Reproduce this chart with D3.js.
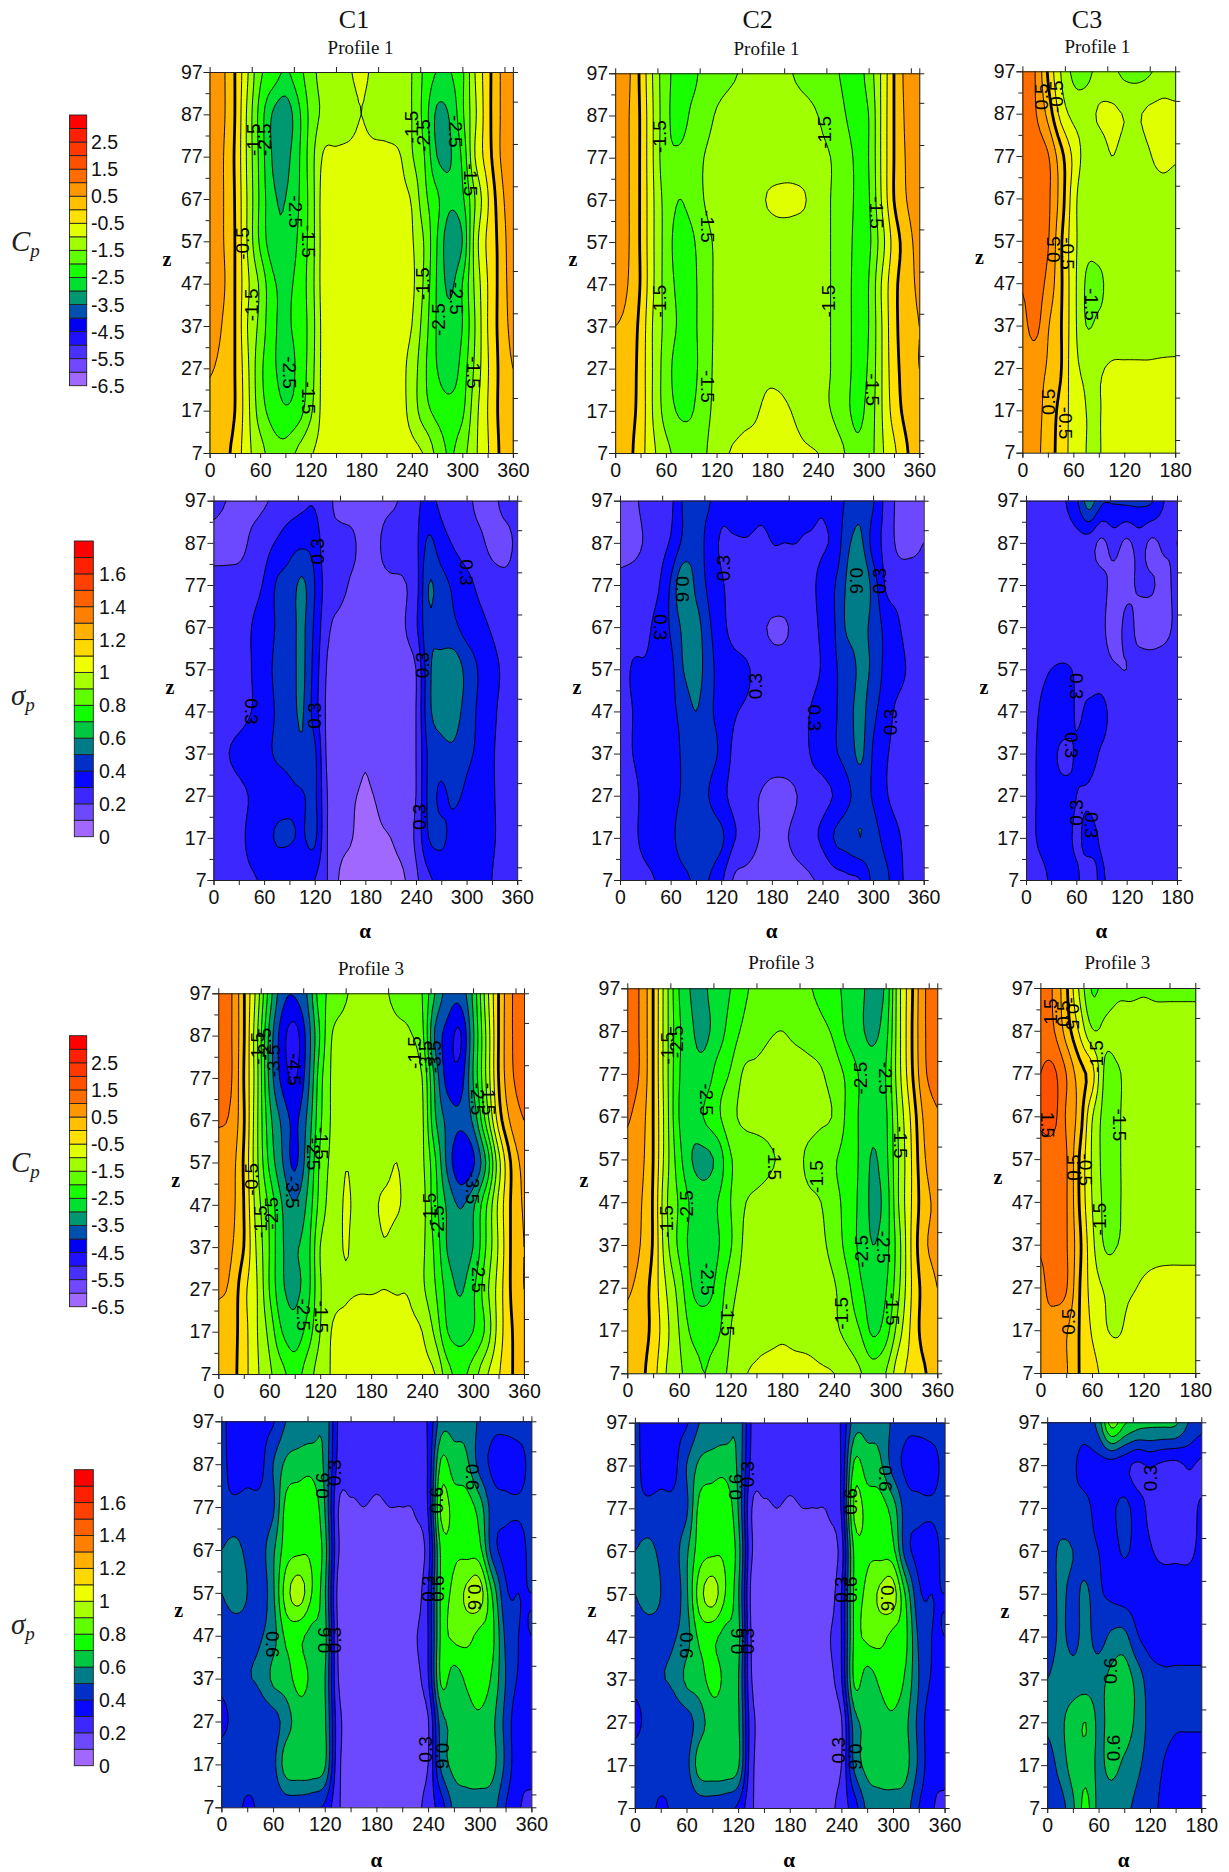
<!DOCTYPE html>
<html><head><meta charset="utf-8">
<script src="https://cdn.jsdelivr.net/npm/d3@7"></script>
<style>
html,body{margin:0;padding:0;background:#fff}
svg{display:block}
.num{font-family:"Liberation Sans",Arial,sans-serif}
.ser{font-family:"Liberation Serif","Times New Roman",serif}
</style></head><body>
<svg id="c" width="1229" height="1872"></svg>
<script>
// ---------- values ----------
const zRows=[97,87,77,67,57,47,37,27,17,7];
const alphaFull=d3.range(0,361,15);
const alphaHalf=d3.range(0,181,15);
const xTicksLabelled=[0,60,120,180,240,300,360];
const cpLevels=d3.range(-6.5,3.01,0.5);
const sigmaLevels=d3.range(0,1.71,0.1);
const cpColors=["#a068ff","#7048ff","#4830ff","#2010ff","#0000f0","#0050b0","#009870","#00e030","#18ff00","#60ff00","#a0ff00","#e0ff00","#ffe000","#ffc000","#ff9800","#ff6c00","#ff5000","#ff3800","#ff2000","#ff0000"];
const sigmaColors=["#a068ff","#6c48ff","#3c28ff","#0808ff","#0030c8","#007c88","#00c840","#10ff00","#60ff00","#a8ff00","#f0ff00","#ffd800","#ffb000","#ff8000","#ff6000","#ff4000","#ff2000","#ff0000"];
const cpLegendLabels=[2.5,1.5,0.5,-0.5,-1.5,-2.5,-3.5,-4.5,-5.5,-6.5];
const sigmaLegendLabels=[1.6,1.4,1.2,1,0.8,0.6,0.4,0.2,0];

const cpC1P1=[
[.85,.6,0,-.95,-1.9,-2.2,-2.55,-2.2,-1.7,-1.3,-1.25,-1.05,-.9,-1.1,-1.3,-1.4,-1.5,-2.1,-2.52,-2.52,-2.1,-1,-.2,.5,.85],
[.85,.6,0,-1.1,-2.2,-3.05,-3.3,-2.65,-1.85,-1.4,-1.35,-1.2,-1,-1.2,-1.3,-1.4,-1.5,-2.2,-3.1,-2.95,-2.1,-1.1,-.2,.5,.85],
[.85,.55,-.05,-1.1,-2.15,-3.05,-3.15,-2.6,-1.75,-.95,-.9,-.88,-.85,-.85,-.85,-.95,-1.45,-2,-3,-3.05,-2.4,-1,-.25,.5,.85],
[.85,.55,-.02,-1.05,-2.1,-2.9,-3,-2.55,-1.8,-.8,-.8,-.78,-.78,-.78,-.8,-.85,-1.05,-1.85,-2.4,-2.9,-2.6,-1.5,-.55,.3,.85],
[.85,.55,0,-1.05,-2.1,-2.8,-2.9,-2.45,-1.8,-.8,-.75,-.75,-.75,-.75,-.75,-.75,-.95,-1.55,-2.5,-3.3,-3,-1.3,-.4,.15,.85],
[.85,.6,0,-.9,-1.6,-2.4,-2.6,-2.35,-1.75,-.8,-.8,-.8,-.8,-.8,-.8,-.8,-.9,-1.6,-2.55,-3.1,-2.5,-1.4,-.5,.15,.75],
[.8,.48,0,-1,-1.65,-2.4,-2.55,-2.35,-1.8,-.85,-.85,-.85,-.85,-.85,-.85,-.85,-1,-1.75,-2.55,-2.85,-2.5,-1.5,-.5,.15,.65],
[.55,.35,0,-.9,-1.85,-2.4,-2.65,-2.4,-1.75,-.85,-.85,-.85,-.85,-.85,-.85,-.85,-1.2,-1.9,-2.5,-2.8,-2.3,-1.4,-.55,.1,.5],
[.35,.25,0,-.85,-1.75,-2.2,-2.45,-2.25,-1.6,-.85,-.82,-.82,-.82,-.82,-.82,-.8,-1.2,-1.8,-2.15,-2.3,-2.1,-1.2,-.5,.1,.35],
[.3,.15,-.15,-.85,-1.3,-1.75,-1.8,-1.4,-1.05,-.85,-.82,-.82,-.82,-.82,-.82,-.82,-.85,-1.05,-1.65,-2.05,-1.7,-1.1,-.55,.05,.3]];

const cpC2P1=[
[.85,.6,-.1,-1.05,-1.85,-2.1,-2.1,-1.9,-1.75,-1.6,-1.45,-1.3,-1.25,-1.35,-1.5,-1.65,-1.75,-1.9,-2.05,-2.2,-1.8,-.95,0,.65,.85],
[.85,.55,-.05,-1,-1.85,-2.15,-1.95,-1.75,-1.45,-1.3,-1.28,-1.28,-1.25,-1.28,-1.3,-1.35,-1.5,-1.7,-1.95,-2.15,-2,-.95,0,.6,.85],
[.85,.55,-.05,-1,-1.85,-1.95,-1.8,-1.5,-1.3,-1.25,-1.25,-1.25,-1.22,-1.25,-1.25,-1.3,-1.4,-1.5,-1.75,-2.05,-2,-.95,0,.55,.85],
[.85,.55,-.05,-.95,-1.7,-2,-1.85,-1.5,-1.3,-1.25,-1.2,-1.15,-.98,-.9,-.9,-.98,-1.3,-1.5,-1.7,-2.05,-2.05,-1,0,.5,.85],
[.85,.55,-.05,-.95,-1.7,-2.2,-2.1,-1.7,-1.42,-1.3,-1.28,-1.25,-1.22,-1.22,-1.25,-1.3,-1.35,-1.5,-1.7,-2.1,-2.1,-1.25,-.3,.25,.7],
[.8,.5,-.03,-.95,-1.7,-2.1,-2.15,-1.75,-1.42,-1.3,-1.28,-1.28,-1.28,-1.28,-1.28,-1.3,-1.35,-1.5,-1.75,-2.1,-2,-1,-.15,.25,.6],
[.5,.35,-.15,-1.05,-1.65,-2.05,-2.15,-1.75,-1.42,-1.3,-1.28,-1.28,-1.28,-1.28,-1.28,-1.3,-1.35,-1.5,-1.75,-2.1,-2,-1.05,-.15,.22,.5],
[.45,.3,-.2,-1.05,-1.75,-2.2,-2.2,-1.75,-1.4,-1.3,-1.28,-1.22,-1.1,-1.15,-1.28,-1.3,-1.35,-1.5,-1.75,-2.1,-1.95,-1.05,-.2,.2,.5],
[.3,.2,-.2,-1.05,-1.7,-2.05,-2.05,-1.65,-1.4,-1.25,-1.12,-1.05,-.92,-.9,-1.02,-1.2,-1.4,-1.5,-1.8,-2.1,-1.85,-1.05,-.3,.15,.3],
[.3,.15,-.3,-.9,-1.35,-1.65,-1.7,-1.55,-1.3,-1,-.92,-.9,-.88,-.88,-.9,-.95,-1,-1.2,-1.45,-1.9,-1.75,-1.1,-.6,-.05,.3]];

const cpC3P1=[
[1.3,1,-.05,-1,-1.6,-1.65,-1.35,-1.4,-1.6,-1.65,-1.55,-1.3,-1.3],
[1.3,1.05,.35,-.65,-1.15,-1.2,-.95,-.9,-1.02,-1.05,-.9,-.85,-.9],
[1.3,1.3,1.05,.2,-.6,-1.2,-1.25,-1,-1.15,-1.25,-1.03,-.85,-.95],
[1.3,1.3,1.1,.3,-.75,-1.45,-1.3,-1.25,-1.25,-1.25,-1.25,-1.25,-1.25],
[1.3,1.3,1.05,.1,-.8,-1.35,-1.3,-1.25,-1.25,-1.25,-1.25,-1.25,-1.25],
[1.05,1.25,.85,.1,-.8,-1.55,-1.6,-1.3,-1.25,-1.25,-1.25,-1.25,-1.25],
[.85,1.15,.55,.05,-.8,-1.5,-1.4,-1.3,-1.25,-1.25,-1.25,-1.25,-1.25],
[.75,.7,.45,.05,-.8,-1.1,-1.05,-.95,-.95,-.95,-.95,-.93,-.92],
[.8,.7,.3,-.15,-.7,-1,-1.02,-.85,-.85,-.85,-.85,-.85,-.85],
[.8,.65,.25,-.2,-.7,-1,-1.02,-.85,-.85,-.85,-.85,-.85,-.85]];

const sigmaC1P1=[
[.22,.2,.18,.17,.19,.22,.25,.28,.29,.22,.18,.17,.15,.17,.18,.22,.28,.32,.28,.25,.22,.18,.18,.22,.22],
[.18,.17,.16,.22,.26,.31,.36,.38,.36,.22,.22,.21,.17,.19,.25,.26,.28,.42,.34,.29,.25,.22,.18,.18,.21],
[.22,.23,.25,.27,.31,.41,.44,.52,.4,.25,.22,.19,.18,.18,.18,.19,.26,.5,.44,.38,.33,.28,.24,.22,.22],
[.22,.24,.26,.3,.34,.41,.45,.52,.38,.22,.18,.17,.16,.17,.17,.19,.28,.48,.44,.42,.36,.33,.29,.25,.22],
[.21,.23,.26,.3,.36,.42,.45,.52,.36,.19,.16,.15,.14,.15,.15,.16,.2,.47,.55,.56,.47,.39,.33,.28,.22],
[.22,.24,.26,.3,.35,.41,.45,.51,.35,.18,.16,.15,.14,.15,.15,.16,.2,.47,.54,.54,.46,.38,.32,.27,.22],
[.24,.29,.33,.36,.38,.41,.43,.48,.42,.18,.16,.15,.11,.15,.15,.16,.2,.42,.46,.48,.42,.38,.31,.27,.23],
[.22,.24,.27,.31,.34,.36,.38,.39,.42,.2,.16,.11,.09,.11,.15,.16,.2,.42,.38,.42,.38,.36,.31,.27,.23],
[.22,.24,.27,.33,.36,.41,.41,.39,.42,.2,.13,.1,.08,.09,.1,.14,.22,.4,.42,.36,.33,.33,.31,.27,.23],
[.22,.24,.27,.29,.31,.32,.32,.33,.3,.2,.09,.08,.07,.08,.08,.09,.18,.28,.33,.34,.35,.34,.3,.26,.23]];

const sigmaC2P1=[
[.18,.18,.23,.27,.28,.41,.43,.41,.33,.35,.38,.33,.32,.31,.31,.33,.31,.35,.42,.48,.41,.27,.18,.17,.2],
[.17,.17,.21,.26,.31,.42,.46,.36,.29,.29,.29,.28,.3,.3,.3,.29,.29,.33,.48,.52,.36,.27,.18,.18,.2],
[.22,.24,.26,.29,.41,.58,.48,.38,.31,.28,.27,.27,.27,.27,.27,.28,.33,.4,.52,.6,.46,.29,.26,.24,.23],
[.23,.25,.28,.33,.41,.52,.54,.42,.33,.27,.25,.22,.19,.19,.23,.27,.32,.4,.52,.53,.47,.37,.31,.25,.23],
[.24,.31,.31,.33,.37,.5,.55,.44,.36,.33,.31,.27,.24,.24,.25,.27,.31,.39,.44,.52,.48,.37,.33,.28,.25],
[.26,.3,.34,.36,.38,.43,.5,.42,.37,.31,.29,.27,.26,.26,.27,.3,.34,.39,.46,.53,.43,.34,.28,.26,.25],
[.25,.3,.34,.38,.37,.41,.43,.43,.38,.28,.27,.26,.25,.25,.26,.3,.34,.39,.44,.52,.39,.31,.28,.26,.25],
[.24,.27,.33,.35,.37,.41,.43,.4,.33,.27,.24,.2,.17,.17,.2,.26,.27,.31,.38,.44,.39,.31,.27,.26,.25],
[.24,.27,.34,.37,.38,.44,.45,.45,.42,.31,.26,.2,.18,.19,.23,.27,.32,.41,.45,.5,.44,.37,.31,.26,.25],
[.22,.24,.27,.31,.35,.38,.41,.4,.32,.19,.17,.16,.15,.16,.17,.19,.22,.26,.28,.3,.42,.42,.33,.26,.24]];

const sigmaC3P1=[
[.25,.25,.25,.29,.38,.55,.42,.41,.42,.42,.41,.3,.26],
[.25,.25,.25,.25,.26,.25,.18,.24,.18,.24,.18,.22,.2],
[.25,.25,.25,.25,.25,.25,.23,.17,.18,.21,.21,.17,.23],
[.25,.25,.25,.25,.25,.25,.22,.16,.22,.18,.16,.17,.22],
[.25,.27,.3,.31,.29,.25,.24,.21,.2,.23,.24,.25,.25],
[.25,.3,.36,.38,.29,.32,.33,.26,.25,.25,.25,.25,.25],
[.25,.31,.33,.27,.31,.33,.29,.26,.25,.25,.25,.25,.25],
[.25,.31,.33,.34,.3,.29,.26,.25,.25,.25,.25,.25,.25],
[.25,.31,.33,.33,.29,.32,.29,.26,.25,.25,.25,.25,.25],
[.25,.27,.31,.33,.31,.27,.31,.26,.25,.25,.25,.25,.25]];

const cpC1P3=[
[1.25,1.05,.05,-1.15,-2.7,-3.8,-3.95,-3.45,-2.2,-1.9,-1.55,-1.35,-1.3,-1.42,-1.65,-1.8,-2,-3,-3.7,-3.8,-2.9,-1.3,0,.95,1.2],
[1.45,1.05,.05,-1.35,-3.1,-4.25,-4.7,-3.8,-2.45,-1.45,-1.3,-1.25,-1.2,-1.25,-1.35,-1.45,-1.85,-3.55,-4.2,-4.55,-3.1,-1.5,0,.95,1.2],
[1.3,1.05,0,-1.3,-3.1,-4.15,-4.55,-3.7,-2.2,-1.4,-1.25,-1.2,-1.15,-1.2,-1.25,-1.35,-1.5,-3.1,-4.2,-4.25,-3,-1.5,0,.9,1.2],
[1.05,.9,.05,-1.35,-2.8,-3.6,-4.1,-3.4,-2.1,-1.4,-1.2,-1.15,-1.15,-1.15,-1.2,-1.3,-1.4,-2.9,-3.65,-3.9,-3.4,-1.9,-.3,.6,1],
[.8,.7,-.05,-1.35,-2.6,-3.45,-4.1,-3.2,-1.9,-1.35,-1.02,-1.15,-1.15,-1.15,-1,-1.25,-1.4,-2.4,-3.65,-4.4,-4.1,-3,-1.2,.05,.65],
[.75,.65,0,-1.2,-2.1,-3,-3.45,-2.9,-1.8,-1.25,-.97,-1.1,-1.1,-.93,-.95,-1.15,-1.3,-2.3,-3.1,-3.55,-3.1,-2.1,-.9,.05,.55],
[.7,.55,0,-1.05,-2,-2.95,-3.05,-2.7,-1.5,-1.25,-.97,-1.2,-1.2,-1.02,-1.15,-1.3,-1.4,-2.1,-3.05,-3.25,-3,-2,-.95,.05,.5],
[.55,.4,-.35,-.95,-2,-2.9,-3.1,-2.7,-1.55,-1.2,-1.05,-1.02,-1.02,-1,-1.02,-1.05,-1.4,-1.95,-2.7,-3.05,-2.6,-1.7,-.8,.05,.5],
[.35,.25,-.3,-.95,-1.65,-2.5,-2.8,-2.3,-1.5,-.95,-.88,-.88,-.88,-.88,-.88,-.9,-1,-1.6,-2.5,-2.7,-2.5,-1.9,-.8,-.05,.35],
[.35,.2,-.3,-.9,-1.4,-1.85,-2.2,-1.75,-1.25,-.95,-.85,-.85,-.85,-.85,-.85,-.85,-.85,-1,-1.8,-2.15,-1.75,-1.1,-.55,-.05,.35]];

const cpC2P3=[
[1.2,.95,0,-1.3,-2.5,-3.05,-3.05,-2.7,-2.5,-2.1,-1.9,-1.8,-1.75,-1.85,-1.95,-2.15,-2.4,-2.6,-2.9,-3.1,-2.9,-1.2,-.1,.95,1.2],
[1.2,.95,0,-1.3,-2.4,-2.95,-3.1,-2.75,-2.3,-1.9,-1.7,-1.55,-1.5,-1.6,-1.7,-1.85,-2.1,-2.6,-2.9,-3.1,-2.7,-1.2,-.05,.95,1.2],
[1.2,.95,0,-1.3,-2.45,-2.85,-2.8,-2.3,-1.95,-1.45,-1.4,-1.35,-1.3,-1.3,-1.35,-1.45,-1.75,-2.1,-2.55,-2.8,-2.5,-1.2,-.1,.9,1.2],
[1.05,.75,0,-1.25,-2.5,-2.8,-2.45,-2.1,-1.65,-1.4,-1.35,-1.35,-1.3,-1.3,-1.3,-1.4,-1.55,-2.1,-2.55,-2.85,-2.6,-1.4,-.4,.6,.95],
[.85,.65,0,-1.25,-2.3,-3,-3.15,-2.85,-2.05,-1.8,-1.7,-1.55,-1.45,-1.35,-1.6,-1.8,-1.95,-2.2,-2.55,-3.05,-2.65,-1.5,-.5,.45,.8],
[.75,.55,-.05,-1.4,-2.05,-2.6,-2.75,-2.5,-2,-1.55,-1.4,-1.35,-1.3,-1.3,-1.4,-1.5,-1.85,-2.15,-2.6,-3.1,-2.8,-1.5,-.5,.3,.6],
[.7,.5,-.05,-1.3,-2.1,-2.65,-2.75,-2.55,-2.05,-1.45,-1.3,-1.25,-1.25,-1.25,-1.3,-1.4,-1.7,-2.15,-2.6,-3,-2.7,-1.7,-.45,.4,.6],
[.55,.35,-.2,-1,-1.7,-2.5,-2.7,-2.35,-1.7,-1.35,-1.25,-1.2,-1.15,-1.2,-1.25,-1.3,-1.45,-1.85,-2.4,-2.75,-2.55,-1.6,-.5,.2,.5],
[.4,.25,-.15,-.85,-1.5,-2.1,-2.2,-2.1,-1.5,-1.25,-1.15,-1.1,-1.05,-1.1,-1.15,-1.25,-1.4,-1.65,-2,-2.6,-2.25,-1.25,-.4,.2,.4],
[.4,.15,-.3,-1,-1.4,-1.75,-2,-1.7,-1.4,-1.05,-.95,-.9,-.9,-.9,-.9,-.95,-1,-1.2,-1.45,-1.75,-1.5,-.7,-.35,-.05,.3]];

const cpC3P3=[
[1.3,.95,.1,-1.05,-2.05,-1.8,-1.6,-1.6,-1.55,-1.6,-1.6,-1.6,-1.6],
[1.4,1.05,.3,-.55,-1.45,-1.4,-1.3,-1.25,-1.25,-1.25,-1.25,-1.25,-1.25],
[1.5,1.6,1,.25,-.3,-1.6,-1.55,-1.3,-1.25,-1.25,-1.25,-1.25,-1.25],
[1.6,1.65,.95,.3,-.95,-1.65,-1.55,-1.3,-1.25,-1.25,-1.25,-1.25,-1.25],
[1.25,1.25,1.05,0,-1.05,-1.65,-1.55,-1.3,-1.25,-1.25,-1.25,-1.25,-1.25],
[1.2,1.2,1.05,0,-1,-1.6,-1.55,-1.3,-1.25,-1.25,-1.25,-1.25,-1.25],
[1.05,1.2,1.05,.15,-.85,-1.55,-1.5,-1.25,-1.15,-1.12,-1.1,-1.1,-1.1],
[.9,1.15,1.05,.05,-.7,-1.05,-1.15,-1.05,-.95,-.9,-.9,-.9,-.9],
[.95,.8,.55,0,-.55,-.95,-1.05,-.85,-.82,-.82,-.82,-.82,-.82],
[.85,.75,.55,0,-.3,-.65,-.7,-.7,-.7,-.7,-.7,-.7,-.7]];

const sigmaC1P3=[
[.41,.38,.38,.38,.39,.5,.53,.55,.58,.3,.26,.25,.24,.24,.25,.26,.31,.55,.57,.57,.48,.42,.42,.43,.42],
[.42,.37,.37,.37,.5,.62,.65,.66,.58,.28,.24,.23,.22,.22,.23,.24,.31,.72,.65,.62,.46,.38,.36,.37,.42],
[.42,.42,.43,.43,.48,.73,.76,.77,.6,.21,.19,.2,.19,.2,.2,.21,.31,.82,.76,.75,.65,.45,.42,.41,.42],
[.5,.53,.48,.46,.58,.75,.78,.78,.65,.22,.17,.16,.15,.15,.16,.16,.25,.72,.78,.77,.73,.45,.37,.37,.42],
[.5,.55,.5,.44,.58,.85,.95,.8,.62,.18,.15,.15,.15,.15,.15,.15,.3,.72,.82,.92,.95,.68,.42,.4,.4],
[.42,.44,.47,.49,.56,.72,.72,.67,.64,.2,.16,.15,.14,.15,.15,.19,.3,.72,.82,.83,.77,.72,.48,.4,.4],
[.41,.43,.49,.52,.62,.66,.73,.68,.61,.21,.16,.15,.14,.14,.15,.17,.29,.72,.65,.72,.76,.68,.5,.39,.37],
[.39,.41,.42,.43,.45,.55,.65,.66,.62,.25,.16,.15,.14,.14,.15,.16,.19,.55,.62,.66,.68,.62,.47,.33,.33],
[.42,.43,.43,.42,.47,.65,.68,.68,.62,.24,.16,.15,.14,.14,.15,.16,.2,.52,.63,.66,.67,.63,.48,.33,.33],
[.41,.42,.39,.41,.42,.44,.44,.42,.38,.22,.15,.14,.14,.14,.14,.16,.25,.35,.52,.55,.55,.54,.4,.31,.28]];
const sigmaC2P3=sigmaC1P3.map(r=>r.slice());

const sigmaC3P3=[
[.42,.42,.43,.44,.55,.85,.72,.65,.63,.63,.62,.5,.44],
[.42,.43,.41,.37,.36,.35,.33,.28,.31,.28,.27,.31,.28],
[.42,.42,.42,.42,.37,.38,.43,.35,.28,.26,.25,.27,.31],
[.42,.52,.5,.44,.4,.37,.41,.37,.31,.28,.28,.28,.32],
[.42,.52,.47,.52,.42,.38,.36,.36,.35,.35,.35,.35,.35],
[.42,.52,.47,.53,.46,.52,.53,.41,.36,.35,.35,.35,.35],
[.5,.55,.55,.55,.56,.63,.66,.56,.45,.42,.42,.42,.42],
[.52,.58,.64,.7,.58,.64,.66,.57,.47,.43,.41,.41,.41],
[.44,.54,.64,.67,.58,.63,.58,.52,.46,.4,.37,.36,.36],
[.42,.45,.58,.73,.57,.54,.52,.48,.44,.38,.37,.37,.37]];

// contour labels: [alpha, z, text, rotation]
const labelsA=[[52,81,"-1.5",-90],[65,81,"-2.5",-90],[102,64,"-2.5",90],[117,57,"-1.5",90],[50,42,"-1.5",-90],[95,26,"-2.5",90],[117,20,"-1.5",90],[39,56.5,"-0.5",-90],[239,84,"-1.5",-90],[254,82,"-2.5",-90],[292,83,"-2.5",90],[310,71.5,"-1.5",90],[252,47,"-1.5",-90],[293,43.5,"-2.5",90],[271,38.5,"-2.5",-90],[314,26,"-1.5",90]];
const labelsB=[[52,82,"-1.5",-90],[110,60.7,"-1.5",90],[52,43,"-1.5",-90],[110,22.8,"-1.5",90],[248,83,"-1.5",-90],[252,43,"-1.5",-90],[310,64,"-1.5",90],[305,22,"-1.5",90]];
const labelsC=[[22,91,"0.5",-90],[40,91,"-0.5",-90],[36,55,"0.5",-90],[53,54,"-0.5",90],[81,42,"-1.5",90],[30,19,"0.5",-90],[51,14,"-0.5",90]];
const labelsD=[[123,85,"0.3",-90],[45,47,"0.3",90],[120,46,"0.3",-90],[247,58,"0.3",-90],[300,80,"0.3",90],[244,22,"0.3",-90]];
const labelsE=[[74,76,"0.6",90],[48,67,"0.3",90],[123,81,"0.3",-90],[280,78,"0.6",90],[308,78,"0.3",-90],[161,53,"0.3",-90],[231,45.5,"0.3",90],[320,44.5,"0.3",-90]];
const labelsF=[[60,53,"0.3",90],[55,39,"0.3",90],[60,23,"0.3",-90],[78,20,"0.3",90]];
const labelsG=[[46,84,"-1.5",-90],[54,85,"-2.5",-90],[65,81,"-3.5",-90],[90,79,"-4.5",90],[122,61.5,"-1.5",90],[112,59,"-2.5",90],[88,50,"-3.5",90],[39,53,"-0.5",-90],[50,43,"-1.5",-90],[63,45,"-2.5",-90],[231,83,"-1.5",-90],[244,82,"-3.5",-90],[255,82,"-3.5",-90],[306,72,"-2.5",90],[318,72,"-1.5",90],[300,51,"-3.5",90],[248,46,"-1.5",-90],[258,43,"-2.5",-90],[307,30,"-2.5",90],[100,21,"-2.5",90],[122,20.5,"-1.5",90]];
const labelsH=[[47,83,"-1.5",-90],[57,84.5,"-2.5",-90],[92,71,"-2.5",90],[68,46,"-2.5",-90],[45,42.5,"-1.5",-90],[93,29,"-2.5",90],[117,19.5,"-1.5",90],[171,56,"-1.5",90],[219,53,"-1.5",-90],[248,21,"-1.5",-90],[271,76,"-2.5",-90],[300,76,"-2.5",90],[317,61,"-1.5",90],[272,35.5,"-2.5",-90],[298,36.5,"-2.5",90],[308,22,"-1.5",90]];
const labelsI=[[11,91.5,"1.5",-90],[27,91,"0.5",-90],[38,91,"-0.5",90],[65,81,"-1.5",-90],[9,65,"1.5",90],[38,55,"0.5",-90],[53,54.5,"-0.5",90],[92,65,"-1.5",90],[68,43,"-1.5",-90],[33,19,"0.5",-90]];
const labelsJ=[[117,82,"0.6",-90],[131,85,"0.3",-90],[292,84,"0.6",90],[250,78.6,"0.6",-90],[240,58,"0.3",-90],[251,58,"0.6",-90],[294,56,"0.6",90],[60,45,"0.6",90],[119,46,"0.6",-90],[131,46,"0.3",-90],[237,20.5,"0.3",-90],[257,19,"0.6",90]];
const labelsL=[[120,84,"0.3",-90],[74,39,"0.6",-90],[77,21,"0.6",-90]];

// ---------- layout ----------
const panels=[
 {g:cpC1P1,k:"cp",x:[209.6,512.9],y:[72,453],lab:labelsA,zl:[167,260]},
 {g:cpC2P1,k:"cp",x:[615.2,919.3],y:[73.3,453],lab:labelsB,zl:[573,260]},
 {g:cpC3P1,k:"cp",x:[1022.4,1175.2],y:[71.3,452.7],lab:labelsC,zl:[979.5,258]},
 {g:sigmaC1P1,k:"s",x:[213.5,517.2],y:[500.7,880],lab:labelsD,zl:[170,688],al:[365,932]},
 {g:sigmaC2P1,k:"s",x:[620,923.7],y:[500.7,880],lab:labelsE,zl:[577,688],al:[771.7,932]},
 {g:sigmaC3P1,k:"s",x:[1026,1177],y:[500.7,880],lab:labelsF,zl:[984,688],al:[1101.4,932]},
 {g:cpC1P3,k:"cp",x:[218.3,524],y:[993.3,1374],lab:labelsG,zl:[175.6,1180.7]},
 {g:cpC2P3,k:"cp",x:[627.3,937.3],y:[988.3,1373.3],lab:labelsH,zl:[584,1180.7]},
 {g:cpC3P3,k:"cp",x:[1040.4,1195.3],y:[988,1373],lab:labelsI,zl:[998,1178]},
 {g:sigmaC1P3,k:"s",x:[221.4,531.4],y:[1421.3,1807.3],lab:labelsJ,zl:[178.7,1610.7],al:[376.4,1861]},
 {g:sigmaC2P3,k:"s",x:[634.9,944.6],y:[1422.7,1808],lab:labelsJ,zl:[592,1610.7],al:[789,1861]},
 {g:sigmaC3P3,k:"s",x:[1047.2,1201.3],y:[1422.3,1808],lab:labelsL,zl:[1005,1611.7],al:[1123.5,1861]}
];
const titles=[["C1",354,28,26],["C2",757.6,28,26],["C3",1087,28,26],
 ["Profile 1",360.6,54,19],["Profile 1",766.5,55,19],["Profile 1",1097.4,52.7,19],
 ["Profile 3",371,975,19],["Profile 3",781.3,969.3,19],["Profile 3",1117.4,969,19]];
const legends=[
 {k:"cp",x:[69.5,86.7],y:[385.7,115],lx:91,sym:"C",sub:"p",sy:242},
 {k:"s",x:[74.3,93.3],y:[836.7,541],lx:99,sym:"σ",sub:"p",sy:696},
 {k:"cp",x:[69.5,86.7],y:[1306.7,1035.7],lx:91,sym:"C",sub:"p",sy:1163},
 {k:"s",x:[74.3,93.3],y:[1765.7,1469.7],lx:99,sym:"σ",sub:"p",sy:1625}
];

// ---------- rendering helpers ----------
const svg=d3.select("#c");
function catmull(p0,p1,p2,p3,t){return .5*((2*p1)+(-p0+p2)*t+(2*p0-5*p1+4*p2-p3)*t*t+(-p0+3*p1-3*p2+p3)*t*t*t);}
function resample(grid,f){ // smooth rendering mesh between the read values
  const h=grid.length,w=grid[0].length,W=(w-1)*f+1,H=(h-1)*f+1;
  const cl=(v,n)=>Math.max(0,Math.min(n-1,v));
  const rows=grid.map(r=>{const o=[];for(let i=0;i<W;i++){const a=Math.min(Math.floor(i/f),w-2),t=i/f-a;
    o.push(catmull(r[cl(a-1,w)],r[a],r[a+1],r[cl(a+2,w)],t));}return o;});
  const v=new Float64Array(W*H);
  for(let j=0;j<H;j++){const b=Math.min(Math.floor(j/f),h-2),t=j/f-b;
    for(let i=0;i<W;i++) v[j*W+i]=catmull(rows[cl(b-1,h)][i],rows[b][i],rows[b+1][i],rows[cl(b+2,h)][i],t);}
  return {v,W,H};
}
const F=5;
panels.forEach((p,idx)=>{
  const full=p.g[0].length===alphaFull.length;
  const alphas=full?alphaFull:alphaHalf, maxA=full?360:180;
  p.g.forEach((r,i)=>{if(r.length!==alphas.length)throw new Error("row length panel "+idx+" row "+i+": "+r.length);});
  const sx=d3.scaleLinear().domain([0,maxA]).range(p.x);
  const sy=d3.scaleLinear().domain([7,97]).range([p.y[1],p.y[0]]);
  const levels=p.k==="cp"?cpLevels:sigmaLevels, colors=p.k==="cp"?cpColors:sigmaColors;
  const {v,W,H}=resample(p.g,F);
  const step=alphas[1]-alphas[0], zStep=zRows[0]-zRows[1];
  const proj=d3.geoTransform({point(x,y){this.stream.point(sx((x-.5)/F*step),sy(97-(y-.5)/F*zStep));}});
  const path=d3.geoPath(proj);
  const g=svg.append("g");
  const cid="clip"+idx;
  svg.append("clipPath").attr("id",cid).append("rect").attr("x",p.x[0]).attr("y",p.y[0]).attr("width",p.x[1]-p.x[0]).attr("height",p.y[1]-p.y[0]);
  const body=g.append("g").attr("clip-path",`url(#${cid})`);
  body.append("rect").attr("x",p.x[0]).attr("y",p.y[0]).attr("width",p.x[1]-p.x[0]).attr("height",p.y[1]-p.y[0]).attr("fill",colors[0]);
  const cs=d3.contours().size([W,H]).thresholds(levels)(Array.from(v));
  body.selectAll("path").data(cs).join("path")
    .attr("d",path)
    .attr("fill",(d,i)=>colors[i])
    .attr("stroke","#000")
    .attr("stroke-width",d=>(p.k==="cp"&&Math.abs(d.value)<1e-6)?2.8:0.95)
    .attr("stroke-linejoin","round");
  // axes
  const ax=g.append("g").attr("class","num");
  const bot=d3.axisBottom(sx).tickValues(d3.range(0,maxA+1,30)).tickSize(5).tickPadding(5)
     .tickFormat(d=>xTicksLabelled.includes(d)?d:"");
  const left=d3.axisLeft(sy).tickValues(d3.range(7,98,5)).tickSize(6).tickPadding(1)
     .tickFormat(d=>(d-7)%10===0?d:"");
  const top=d3.axisTop(sx).tickValues(d3.range(50,maxA,50)).tickSize(5).tickFormat("");
  const right=d3.axisRight(sy).tickValues(d3.range(10,91,10)).tickSize(5).tickFormat("");
  const style=s=>{s.selectAll("text").attr("font-size",19.5).attr("fill","#111");s.selectAll("line,path").attr("stroke","#222");};
  ax.append("g").attr("transform",`translate(0,${p.y[1]})`).call(bot).call(style);
  const lg=ax.append("g").attr("transform",`translate(${p.x[0]},0)`).call(left).call(style);
  lg.selectAll(".tick").filter(d=>(d-7)%10!==0).select("line").attr("x2",-4);
  ax.append("g").attr("transform",`translate(0,${p.y[0]})`).call(top).call(style);
  ax.append("g").attr("transform",`translate(${p.x[1]},0)`).call(right).call(style);
  ax.selectAll("text").attr("font-family",'"Liberation Sans",Arial,sans-serif');
  // contour labels
  g.selectAll("text.cl").data(p.lab).join("text").attr("class","num cl")
    .attr("transform",d=>`translate(${sx(d[0])},${sy(d[1])}) rotate(${d[3]})`)
    .attr("text-anchor","middle").attr("dy",".35em").attr("font-size",19).attr("fill","#000")
    .text(d=>d[2]);
  // z, alpha labels
  g.append("text").attr("class","ser").attr("x",p.zl[0]).attr("y",p.zl[1]).attr("dy",".3em").attr("text-anchor","middle").attr("font-size",20).attr("font-weight","bold").text("z");
  if(p.al) g.append("text").attr("class","ser").attr("x",p.al[0]).attr("y",p.al[1]).attr("dy",".3em").attr("text-anchor","middle").attr("font-size",21).attr("font-weight","bold").text("α");
});
// titles
svg.selectAll("text.title").data(titles).join("text").attr("class","ser title")
  .attr("x",d=>d[1]).attr("y",d=>d[2]).attr("text-anchor","middle").attr("font-size",d=>d[3]).attr("fill","#111").text(d=>d[0]);
// legends
legends.forEach(l=>{
  const levels=l.k==="cp"?cpLevels:sigmaLevels, colors=l.k==="cp"?cpColors:sigmaColors, labs=l.k==="cp"?cpLegendLabels:sigmaLegendLabels;
  const stepL=levels[1]-levels[0];
  const y=d3.scaleLinear().domain([levels[0],levels[levels.length-1]+stepL]).range(l.y);
  const g=svg.append("g");
  g.selectAll("rect").data(levels).join("rect").attr("x",l.x[0]).attr("width",l.x[1]-l.x[0])
    .attr("y",d=>y(d+stepL)).attr("height",d=>y(d)-y(d+stepL))
    .attr("fill",(d,i)=>colors[i]).attr("stroke","#222").attr("stroke-width",.9);
  g.selectAll("text").data(labs).join("text").attr("class","num").attr("x",l.lx).attr("y",d=>y(d)).attr("dy",".36em")
    .attr("font-size",19.5).attr("fill","#111").text(d=>d);
  const t=svg.append("text").attr("class","ser").attr("x",11).attr("y",l.sy+9).attr("font-style","italic").attr("font-size",29).attr("fill","#222");
  t.append("tspan").text(l.sym);
  t.append("tspan").attr("dy",6).attr("font-size",19).text(l.sub);
});
</script>
</body></html>
